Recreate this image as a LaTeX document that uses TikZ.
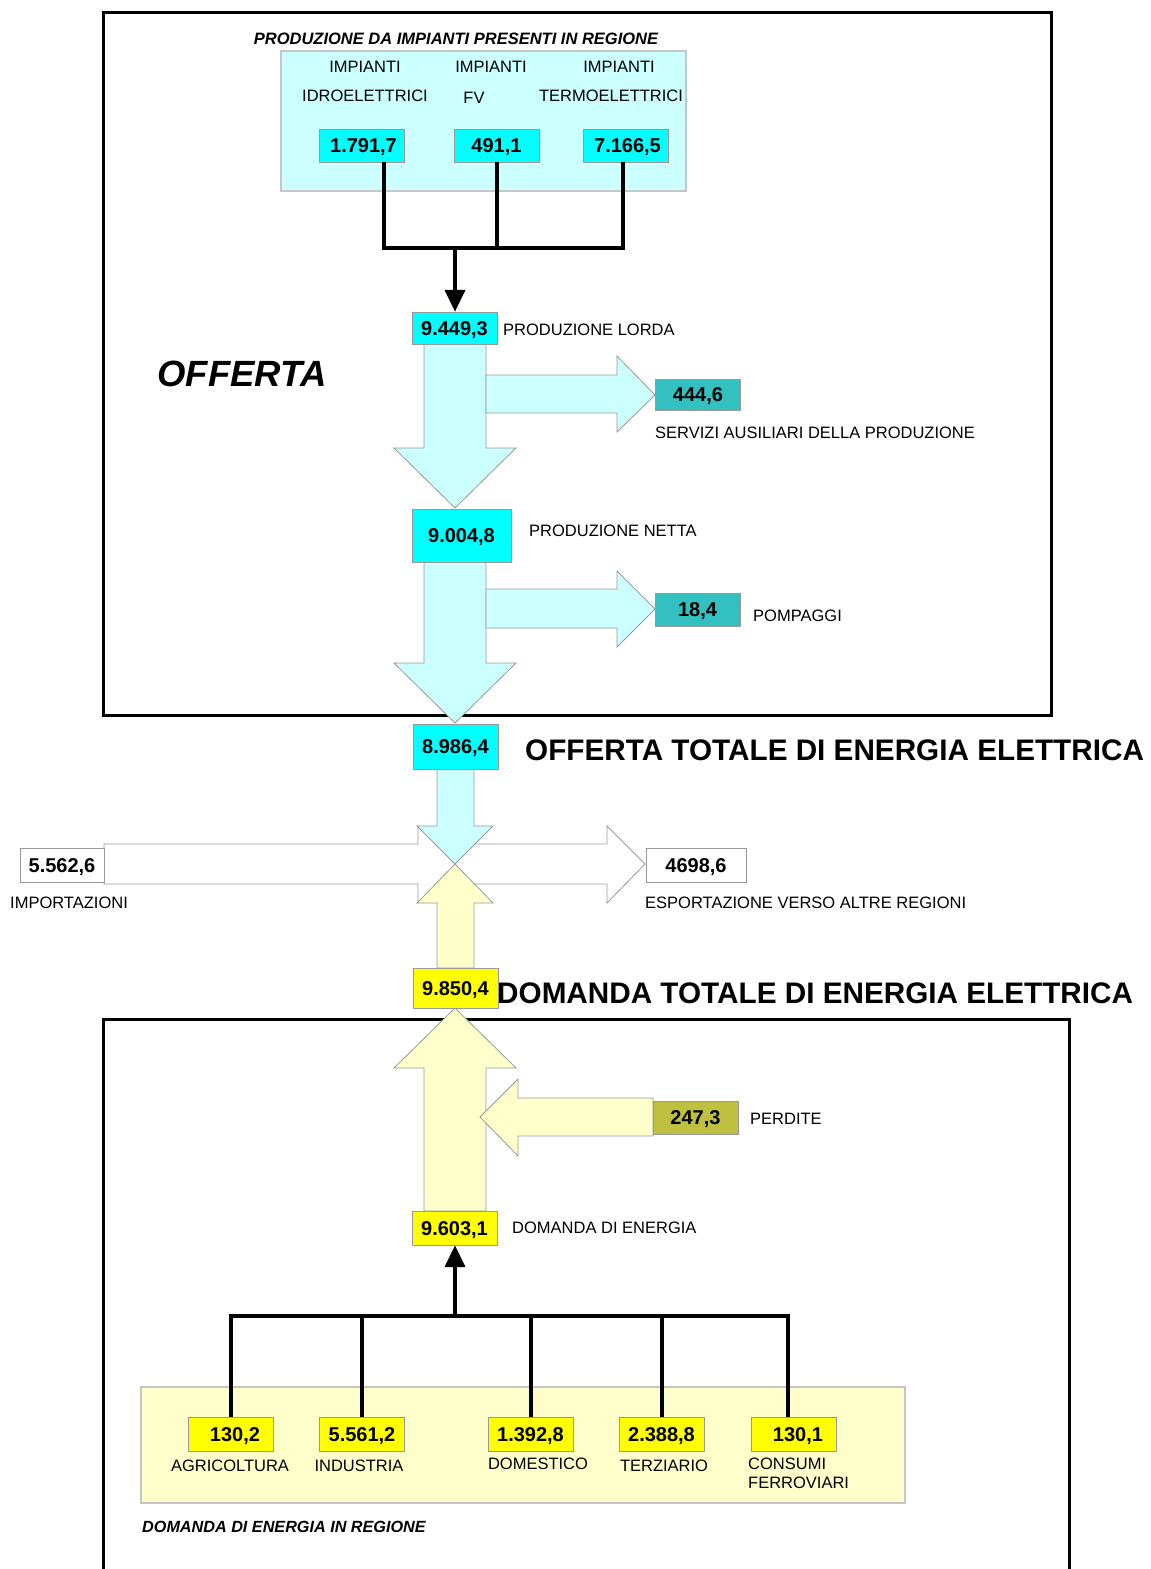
\documentclass[tikz,border=0pt]{standalone}
\usepackage{fontspec}
\setmainfont{Liberation Sans}
\usetikzlibrary{arrows.meta}
\definecolor{aqua}{RGB}{0,255,255}
\definecolor{paleaqua}{RGB}{204,255,255}
\definecolor{tealbox}{RGB}{51,192,192}
\definecolor{yellbox}{RGB}{255,255,0}
\definecolor{paleyell}{RGB}{255,255,204}
\definecolor{olivebox}{RGB}{192,192,64}
\newcommand{\labfont}{\fontsize{16.5}{19}\selectfont}
\newcommand{\numfont}{\bfseries\fontsize{20}{22}\selectfont}
\newcommand{\bigfont}{\bfseries\fontsize{29.7}{32}\selectfont}

\begin{document}
\begin{tikzpicture}[x=1pt,y=-1pt]
  \tikzset{lab/.style={font=\labfont,inner sep=0pt,anchor=west},
    clab/.style={font=\labfont,inner sep=0pt},
    numbox/.style={draw=gray!80,font=\numfont,inner sep=0pt,text height=14.5pt,text depth=0pt,minimum width=85pt,minimum height=33pt},
    feed/.style={draw=black,line width=4pt},
    tip/.style={-{Triangle[width=20pt,length=22pt]}},
    frame/.style={draw=black,line width=3pt},
    cyflow/.style={draw=gray!80,fill=paleaqua,line width=0.8pt,line join=miter},
    yeflow/.style={draw=gray!80,fill=paleyell,line width=0.8pt,line join=miter},
    whflow/.style={draw=gray!80,fill=white,line width=0.8pt,line join=miter}}
  \useasboundingbox (0,0) rectangle (1151,1569);

  % frames and panels
  \draw[frame] (103,12) rectangle (1051,715);
  \draw[frame] (103,1580) |- (1069,1019) -- (1069,1580);
  \draw[draw=gray!45,fill=paleaqua,line width=1.2pt] (281,51) rectangle (686,191);
  \draw[draw=gray!45,fill=paleyell,line width=1.2pt] (141,1387) rectangle (905,1503);

  % exchange arrows
  \draw[whflow] (455,844) -- (607,844) -- (607,826) -- (645,864) -- (607,903) -- (607,884) -- (455,884) -- cycle;
  \draw[whflow] (104,844) -- (418,844) -- (418,826) -- (455,864) -- (418,903) -- (418,884) -- (104,884) -- cycle;
  \draw[cyflow] (437,769) -- (437,826) -- (417,826) -- (455,864) -- (493,826) -- (474,826) -- (474,769) -- cycle;
  \draw[yeflow] (437,968) -- (437,903) -- (417,903) -- (455,864) -- (493,903) -- (474,903) -- (474,968) -- cycle;

  % supply arrows
  \draw[cyflow] (424,344) -- (424,448) -- (394,448) -- (455,508) -- (516,448) -- (486,448) -- (486,344) -- cycle;
  \draw[cyflow] (486,375) -- (617,375) -- (617,356) -- (655,395) -- (617,432) -- (617,413) -- (486,413) -- cycle;
  \draw[cyflow] (424,562) -- (424,663) -- (394,663) -- (455,723) -- (516,663) -- (486,663) -- (486,562) -- cycle;
  \draw[cyflow] (486,589) -- (617,589) -- (617,571) -- (655,609) -- (617,647) -- (617,628) -- (486,628) -- cycle;

  % demand arrows
  \draw[yeflow] (424,1211) -- (424,1068) -- (394,1068) -- (455,1008) -- (516,1068) -- (486,1068) -- (486,1211) -- cycle;
  \draw[yeflow] (653,1098) -- (518,1098) -- (518,1079) -- (480,1117) -- (518,1156) -- (518,1136) -- (653,1136) -- cycle;

  % production
  \node[font=\bfseries\itshape\fontsize{16.5}{19}\selectfont,inner sep=0pt] (prodtitle) at (456,39) {PRODUZIONE DA IMPIANTI PRESENTI IN REGIONE};
  \node[clab] at (365,67) {IMPIANTI};
  \node[clab] at (365,96) {IDROELETTRICI};
  \node[clab] at (491,67) {IMPIANTI};
  \node[clab] at (474,98) {FV};
  \node[clab] at (619,67) {IMPIANTI};
  \node[clab] at (611,96) {TERMOELETTRICI};
  \node[numbox,fill=aqua] (idro) at (361.5,145.5) {\hspace{4pt}1.791,7};
  \node[numbox,fill=aqua] (fv) at (496.5,145.5) {491,1};
  \node[numbox,fill=aqua] (term) at (625.5,145.5) {\hspace{4pt}7.166,5};

  \node[numbox,fill=aqua,minimum height=32pt] (lorda) at (454.5,328) {9.449,3};
  \node[lab] at (503,330) {PRODUZIONE LORDA};
  \node[font=\bfseries\itshape\fontsize{36.5}{40}\selectfont,inner sep=0pt] (offerta) at (242,374) {OFFERTA};
  \node[numbox,fill=tealbox,minimum height=31pt] (aus) at (698,394.5) {444,6};
  \node[lab] at (655,433) {SERVIZI AUSILIARI DELLA PRODUZIONE};
  \node[numbox,fill=aqua,minimum width=99pt,minimum height=53pt] (netta) at (461.5,535.5) {9.004,8};
  \node[lab] at (529,531) {PRODUZIONE NETTA};
  \node[numbox,fill=tealbox] (pomp) at (697.5,609.5) {18,4};
  \node[lab] at (753,616) {POMPAGGI};

  % totals and exchanges
  \node[numbox,fill=aqua,minimum height=45pt] (offtot) at (455.5,746.5) {8.986,4};
  \node[font=\bigfont,inner sep=0pt,anchor=west] at (525,750) {OFFERTA TOTALE DI ENERGIA ELETTRICA};
  \node[numbox,fill=white,minimum width=84pt,minimum height=34pt] (imp) at (62,865) {5.562,6};
  \node[lab] at (10,903) {IMPORTAZIONI};
  \node[numbox,fill=white,minimum width=100pt,minimum height=34pt] (esp) at (696,865) {4698,6};
  \node[lab] at (645,903) {ESPORTAZIONE VERSO ALTRE REGIONI};
  \node[numbox,fill=yellbox,minimum height=40pt] (domtot) at (455.5,988) {9.850,4};
  \node[font=\bigfont,inner sep=0pt,anchor=west] at (497,993) {DOMANDA TOTALE DI ENERGIA ELETTRICA};

  % demand
  \node[numbox,fill=olivebox] (perd) at (695.5,1117.5) {247,3};
  \node[lab] at (750,1119) {PERDITE};
  \node[numbox,fill=yellbox,minimum height=34pt] (dom) at (454.5,1228) {9.603,1};
  \node[lab] at (512,1228) {DOMANDA DI ENERGIA};

  \node[numbox,fill=yellbox,minimum height=34pt] (agri) at (231,1434) {\hspace{8pt}130,2};
  \node[numbox,fill=yellbox,minimum height=34pt] (ind) at (362,1434) {5.561,2};
  \node[numbox,fill=yellbox,minimum height=34pt] (domes) at (530.5,1434) {1.392,8};
  \node[numbox,fill=yellbox,minimum height=34pt] (terz) at (661.5,1434) {2.388,8};
  \node[numbox,fill=yellbox,minimum height=34pt] (ferr) at (794,1434) {\hspace{8pt}130,1};
  \node[clab] at (230,1466) {AGRICOLTURA};
  \node[clab] at (359,1466) {INDUSTRIA};
  \node[clab] at (538,1464) {DOMESTICO};
  \node[clab] at (664,1466) {TERZIARIO};
  \node[lab,align=left,anchor=north west] at (748,1458) {CONSUMI\\FERROVIARI};
  \node[font=\bfseries\itshape\fontsize{16.2}{19}\selectfont,inner sep=0pt,anchor=west] (domtitle) at (142,1527) {DOMANDA DI ENERGIA IN REGIONE};

  % connectors
  \coordinate (upj) at (455,248);
  \draw[feed] ([xshift=22.5pt]idro.south) |- (upj) -| ([xshift=-2.5pt]term.south);
  \draw[feed] (fv.south) -- (fv.south |- upj);
  \draw[feed,tip] (upj) -- (upj |- lorda.north);

  \coordinate (dnj) at (455,1316);
  \draw[feed] (agri.north) |- (dnj) -| ([xshift=-6pt]ferr.north);
  \foreach \b in {ind,domes,terz}
    \draw[feed] (\b.north) -- (\b.north |- dnj);
  \draw[feed,tip] (dnj) -- (dnj |- dom.south);
\end{tikzpicture}
\end{document}
